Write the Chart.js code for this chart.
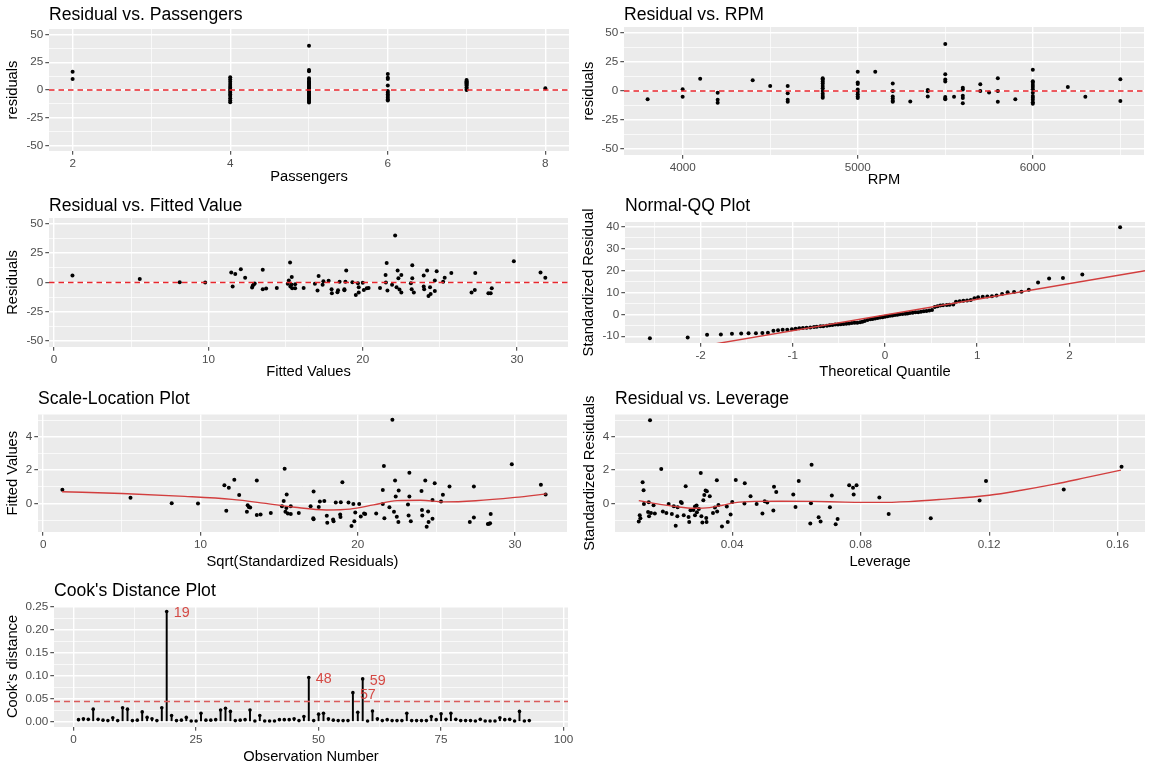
<!DOCTYPE html>
<html>
<head>
<meta charset="utf-8">
<script src="https://cdn.jsdelivr.net/npm/chart.js@4.4.1/dist/chart.umd.min.js"></script>
<style>
  html, body { margin: 0; padding: 0; background: #fff; }
  #page { position: relative; width: 1152px; height: 768px; overflow: hidden; }
  #page canvas { position: absolute; }
</style>
</head>
<body>
<div id="page"></div>
<script>
// ---- Residual vs. Passengers
const passengers = [2,2,
  4,4,4,4,4,4,4,4,4,4,4,4,4,4,
  5,5,5,5,5,5,5,5,5,5,5,5,5,5,5,5,5,5,5,5,5,5,5,5,5,5,5,
  6,6,6,6,6,6,6,6,6,6,6,
  7,7,7,7,7,7,7,7,7,
  8];
const residPass = [16.5,10,
  11.4,9.5,7.5,5.5,3.5,2,0.5,-1,-2.5,-4,-5.5,-7.5,-9.5,-11.1,
  40,18,17,10.5,9.5,8,7,6,5,4,3,2,1.5,0.5,0,-0.5,-1.5,-2.5,-3.5,-4.5,-5.5,-6.5,-7.5,-8.5,-9.5,-10.5,-11.3,
  14.4,11,10,4,-1,-2.5,-4,-5.5,-7,-8.5,-9.5,
  9,8,7,6,5,4,2.5,1,0,
  1.5];

// ---- Residual vs. RPM
const rpm = [3800,4000,4000,4100,4200,4200,4200,4400,4500,4600,4600,4600,4600,
  4800,4800,4800,4800,4800,4800,4800,4800,4800,4800,
  5000,5000,5000,5000,5000,5000,5000,5000,5100,
  5200,5200,5200,5200,5200,5200,5300,5400,5400,5400,
  5500,5500,5500,5500,5500,5500,5500,5550,
  5600,5600,5600,5600,5600,5700,5700,5750,5800,5800,5800,5900,
  6000,6000,6000,6000,6000,6000,6000,6000,6000,6000,6000,6000,
  6200,6300,6500,6500];
const residRpm = [-7,1.5,-5,10.5,-1.5,-7.6,-10.2,9.3,4.4,4.4,-2,-7.6,-9.3,
  11,9.9,8.1,6.4,4.4,2.3,0,-2.3,-4.4,-5.8,
  16.6,7.3,6.1,1.2,-0.6,-2.9,-4.7,-6.1,16.6,
  6.4,0,-4.7,-6.4,-8.4,-9.3,-9.0,0.9,-0.3,-4.7,
  40.4,14.5,9.9,8.1,-5.2,-6.4,-7,-5,
  2.9,1.2,-4.1,-6.1,-10.5,5.8,0,-1.2,11,0,-9.3,-7,
  18.3,8.4,7,5.2,3.5,1.5,-1.5,-4.4,-5.8,-7.6,-9.6,-11,
  3.5,-5,10.2,-8.7];

// ---- Residual vs. Fitted Value
const fittedRF = [1.19,5.55,8.14,9.79,11.48,11.57,11.74,12.1,12.38,12.83,12.88,12.95,13.0,
  13.52,13.52,13.74,14.43,15.14,15.21,15.29,15.31,15.4,15.38,15.43,15.62,15.62,
  16.17,16.9,17.14,17.07,17.4,17.45,17.79,17.98,18.0,18.4,18.36,18.5,18.81,18.81,18.88,18.93,
  19.33,19.55,19.69,19.74,19.74,20.0,20.07,20.26,20.38,
  21.12,21.48,21.5,21.55,21.6,21.9,22.1,22.19,22.26,22.31,22.38,22.5,22.5,
  23.12,23.21,23.21,23.17,23.31,23.95,23.95,23.98,24.17,24.26,24.36,24.4,24.67,24.67,24.79,
  25.21,25.31,25.74,27.05,27.29,27.26,28.14,28.29,28.36,29.79,31.52,31.83];
const residRF = [6.0,2.9,0.3,0,8.6,-3.4,7.2,11.2,4.0,-4.3,-2.6,-1.4,-0.9,
  10.9,-5.7,-5.2,-4.6,-1.1,1.7,17.0,-3.4,4.6,-1.7,-4.9,-1.4,-4.9,
  -4.6,-1.1,5.5,-6.9,-2.0,1.1,1.4,-5.7,-9.2,-6.6,-8.3,0.6,-5.7,-6.6,0.6,10.3,
  0.3,-10.6,-0.6,-8.6,-4.0,-0.3,-6.3,-4.9,-4.6,
  -4.6,6.3,0,16.7,-6.9,-2.0,40,-4.0,10.3,3.7,-6.0,6.3,-8.6,
  -0.6,14.7,3.7,-5.7,-8.6,6.0,-3.4,-5.7,10.3,-11.5,-4.0,-9.8,1.7,-7.2,9.5,
  0.6,4.0,8.0,-8.6,8.0,-6.3,-9.2,-9.2,-4.9,18.1,8.6,4.0];

// ---- Normal-QQ Plot
const qqTheo = [-2.55,-2.14,-1.93,-1.78,-1.66,-1.56,-1.48,-1.40,-1.33,-1.27,
  -1.21,-1.16,-1.11,-1.06,-1.01,-0.97,-0.93,-0.89,-0.85,-0.81,
  -0.77,-0.74,-0.70,-0.67,-0.63,-0.60,-0.57,-0.54,-0.51,-0.48,
  -0.45,-0.42,-0.39,-0.36,-0.33,-0.30,-0.27,-0.245,-0.22,-0.19,
  -0.16,-0.135,-0.108,-0.081,-0.054,-0.027,0,
  0.027,0.054,0.081,0.108,0.135,0.16,0.19,0.22,0.245,0.27,
  0.30,0.33,0.36,0.39,0.42,0.45,0.48,0.51,0.54,0.57,
  0.60,0.63,0.67,0.70,0.74,0.77,0.81,0.85,0.89,0.93,
  0.97,1.01,1.06,1.11,1.16,1.21,1.27,1.33,1.40,1.48,
  1.56,1.66,1.78,1.93,2.14,2.55];
const qqSample = [-10.9,-10.6,-9.3,-9.2,-8.9,-8.8,-8.7,-8.6,-8.5,-8.4,
  -7.5,-7.3,-7.1,-7.0,-6.8,-6.6,-6.4,-6.3,-6.1,-6.0,
  -5.8,-5.7,-5.5,-5.4,-5.2,-5.0,-4.9,-4.7,-4.6,-4.5,
  -4.4,-4.3,-4.2,-4.0,-3.9,-3.8,-3.6,-3.4,-3.0,-2.6,
  -2.3,-2.1,-1.9,-1.7,-1.5,-1.3,-1.1,
  -0.9,-0.7,-0.5,-0.3,-0.2,0,0.1,0.3,0.4,0.6,
  0.7,0.9,1.0,1.2,1.4,1.5,1.7,2.0,3.3,3.7,
  4.0,4.2,4.3,4.4,4.5,5.8,6.0,6.2,6.3,6.6,
  7.3,7.8,8.0,8.1,8.3,8.6,9.3,10.1,10.2,10.3,
  11.2,14.6,16.4,16.6,18.2,39.8];
const qqLineX = [-2.82, 2.82];
const qqLineY = [-20.5, 19.9];

// ---- Scale-Location Plot
const fittedSL = [1.22,5.55,8.17,9.84,11.52,11.64,11.8,12.15,12.46,12.95,13.0,13.07,13.16,13.58,13.58,13.82,14.47,
  15.18,15.29,15.35,15.4,15.48,15.46,15.55,15.74,15.74,16.25,17.0,17.19,17.17,17.19,17.52,17.59,17.87,
  18.03,18.06,18.6,18.43,18.46,18.88,18.9,18.92,19.02,19.41,19.6,19.72,19.78,19.84,20.09,20.19,20.4,20.47,
  21.17,21.59,21.59,21.66,21.69,22.01,22.2,22.3,22.37,22.41,22.48,22.6,22.58,23.19,23.28,23.28,23.23,23.37,
  24.05,24.08,24.1,24.29,24.38,24.47,24.5,24.75,24.75,24.89,25.29,25.41,25.83,27.12,27.38,27.38,
  28.27,28.41,28.45,29.79,31.64,31.94,28.35];
const stdResSL = [0.83,0.35,0.02,0.0,1.10,-0.43,0.95,1.42,0.51,-0.49,-0.1,-0.2,-0.24,1.38,-0.69,-0.65,-0.57,
  -0.16,0.16,2.09,-0.49,0.55,-0.26,-0.59,-0.16,-0.63,-0.57,-0.16,0.73,-0.87,-0.93,-0.2,0.12,0.16,
  -0.73,-1.14,0.06,-0.95,-1.06,-0.65,-0.81,0.08,1.28,0.06,-1.34,-0.02,-1.06,-0.53,-0.02,-0.77,-0.59,-0.63,
  -0.59,0.81,-0.02,2.25,-0.87,-0.22,5.02,-0.49,1.38,0.43,-0.79,0.79,-1.1,-0.06,1.85,0.43,-0.71,-1.06,
  0.75,-0.39,-0.71,1.38,-1.38,-0.47,-1.1,0.22,-0.91,1.22,0.12,0.53,1.02,-1.1,1.02,-0.83,
  -1.22,-1.18,-0.63,2.36,1.12,0.55,-1.2];
const smoothSLX = [1.2,5,9,12,14,16,18,19.5,21,22.5,24,25.5,27.5,30,32];
const smoothSLY = [0.71,0.6,0.43,0.25,0.03,-0.22,-0.38,-0.33,-0.08,0.18,0.2,0.1,0.17,0.37,0.58];

// ---- Residual vs. Leverage
const leverage = [0.0109,0.0112,0.0114,0.0121,0.0124,0.0125,0.014,0.0138,0.0141,0.0144,
  0.0147,0.0155,0.0159,0.0179,0.0184,0.0195,0.0202,0.0212,0.0218,0.0224,
  0.0229,0.023,0.024,0.0243,0.0249,0.0255,0.0264,0.0266,0.027,0.0279,
  0.0284,0.0284,0.0289,0.029,0.0296,0.0302,0.0304,0.0307,0.031,0.0313,
  0.0317,0.0319,0.032,0.0321,0.033,0.034,0.0346,0.0352,0.0353,0.0357,
  0.0368,0.0383,0.0386,0.0395,0.04,0.0411,0.0438,0.0439,0.0457,0.0476,
  0.0494,0.0501,0.0509,0.0528,0.053,0.0537,0.059,0.0597,0.0607,0.0643,
  0.0645,0.0647,0.0669,0.0675,0.0704,0.071,0.0722,0.0728,0.0764,0.0776,
  0.0778,0.0787,0.0858,0.0887,0.1018,0.117,0.119,0.1432,0.1612];
const stdResLev = [-1.07,-0.7,-0.88,1.27,0.8,-0.02,0.08,-0.5,-0.76,4.98,
  -0.56,-0.1,-0.6,2.07,-0.48,-0.56,-0.02,-0.62,-0.16,-1.33,
  -0.76,-0.22,0.1,0.04,-0.7,1.03,-0.8,-1.1,-0.4,-0.38,
  -0.18,-0.7,-0.12,-0.52,-0.32,1.83,-0.76,-1.13,0.2,0.52,
  0.78,-0.86,-1.1,0.74,0.44,-0.56,-0.24,1.39,-0.48,-0.08,
  -1.37,-0.18,-1.1,-0.66,0.1,1.41,0,1.21,0.44,-0.02,
  -0.6,0.14,0.06,-0.42,1.0,0.7,0.54,-0.2,1.35,-1.19,
  0.02,2.33,-0.82,-1.07,-0.22,0.48,-1.23,-0.92,1.09,0.94,
  0.54,1.09,0.36,-0.62,-0.88,0.18,1.35,0.84,2.21];
const smoothLevX = [0.0109,0.0175,0.022,0.028,0.033,0.037,0.041,0.047,0.055,0.065,0.075,0.085,0.095,0.105,0.12,0.13,0.14,0.15,0.161];
const smoothLevY = [0.18,-0.05,-0.17,-0.28,-0.24,-0.1,0.06,0.13,0.14,0.13,0.09,0.07,0.12,0.25,0.5,0.8,1.15,1.55,2.0];

// ---- Cook's Distance Plot (observations 1..93)
const cooks = [0.004,0.006,0.005,0.027,0.005,0.003,0.002,0.008,0.002,0.030,
  0.027,0.002,0.003,0.021,0.009,0.006,0.002,0.030,0.240,0.013,
  0.002,0.003,0.009,0.001,0.001,0.018,0.003,0.003,0.004,0.025,
  0.029,0.022,0.002,0.003,0.004,0.025,0.001,0.013,0.001,0.001,
  0.001,0.004,0.004,0.004,0.006,0.002,0.011,0.096,0.002,0.016,
  0.018,0.006,0.003,0.002,0.002,0.002,0.063,0.020,0.093,0.001,
  0.023,0.006,0.002,0.004,0.002,0.002,0.002,0.018,0.002,0.002,
  0.002,0.002,0.011,0.004,0.017,0.005,0.018,0.005,0.002,0.002,
  0.002,0.001,0.005,0.001,0.001,0.001,0.008,0.004,0.005,0.001,
  0.022,0.001,0.002];
const cookLabels = [19, 48, 57, 59];
const cookCutoff = 0.0435;

// ---------------------------------------------------------------
const FONT = '"Liberation Sans", Arial, Helvetica, sans-serif';
const page = document.getElementById('page');

function near(list, v) { return list.some(m => Math.abs(m - v) < 1e-9); }
function pts(xs, ys) { return xs.map((x, i) => ({ x: x, y: ys[i] })); }

// grey panel + left aligned plot title
const ggPanel = {
  id: 'ggPanel',
  beforeDraw(chart) {
    const a = chart.chartArea, c = chart.ctx;
    c.save();
    c.fillStyle = '#EBEBEB';
    c.fillRect(a.left, a.top, a.right - a.left, a.bottom - a.top);
    c.restore();
  },
  afterDraw(chart, args, opts) {
    if (!opts.text) return;
    const c = chart.ctx;
    c.save();
    c.font = '17.6px ' + FONT;
    c.fillStyle = '#000';
    c.textAlign = 'left';
    c.textBaseline = 'middle';
    c.fillText(opts.text, chart.chartArea.left, opts.y);
    c.restore();
  }
};

// red observation numbers on the cook's plot
const cookLabelPlugin = {
  id: 'cookLabels',
  afterDatasetsDraw(chart) {
    const xs = chart.scales.x, ys = chart.scales.y, c = chart.ctx;
    c.save();
    c.font = '14.3px ' + FONT;
    c.fillStyle = '#D54A45';
    c.textAlign = 'left';
    c.textBaseline = 'middle';
    cookLabels.forEach(n => {
      c.fillText(String(n), xs.getPixelForValue(n) + 7, ys.getPixelForValue(cooks[n - 1]) + 2);
    });
    c.restore();
  }
};

function axis(ax, pos, fitFn, titlePad) {
  const all = ax.major.concat(ax.minor).filter(v => v >= ax.min && v <= ax.max).sort((a, b) => a - b);
  return {
    type: 'linear', position: pos, min: ax.min, max: ax.max, offset: false,
    afterBuildTicks: s => { s.ticks = all.map(v => ({ value: v })); },
    afterFit: s => { fitFn(s); s.paddingLeft = 0; s.paddingRight = 0; s.paddingTop = 0; s.paddingBottom = 0; },
    grid: {
      offset: false,
      color: '#FFFFFF',
      lineWidth: c => (c.tick && near(ax.major, c.tick.value)) ? 1.4 : 0.7,
      drawTicks: true,
      tickLength: 3.7,
      tickWidth: 1,
      tickColor: c => (c.tick && near(ax.major, c.tick.value)) ? '#333333' : 'rgba(0,0,0,0)'
    },
    border: { display: false },
    ticks: {
      autoSkip: false, maxRotation: 0, minRotation: 0, padding: 2,
      color: '#4D4D4D', font: { family: FONT, size: 11.7 },
      callback: v => near(ax.major, v) ? (ax.fmt ? ax.fmt(v) : String(v)) : ''
    },
    title: { display: true, text: ax.title, color: '#000', font: { family: FONT, size: 14.7 }, padding: titlePad }
  };
}

function makePanel(p) {
  const [cx, cy, cw, ch] = p.cell;
  const [al, at, ar, ab] = p.area;
  const cv = document.createElement('canvas');
  cv.width = cw; cv.height = ch;
  cv.style.left = cx + 'px'; cv.style.top = cy + 'px';
  cv.style.width = cw + 'px'; cv.style.height = ch + 'px';
  page.appendChild(cv);
  const half = 14.7 * 1.2 / 2;
  const pluginOpts = { legend: { display: false }, tooltip: { enabled: false }, ggPanel: { text: p.title, y: p.titleY - cy } };
  new Chart(cv.getContext('2d'), {
    type: 'scatter',
    data: { datasets: p.datasets },
    options: {
      responsive: false, animation: false, events: [],
      layout: { autoPadding: false, padding: { left: 0, top: at - cy, right: cx + cw - ar, bottom: 0 } },
      plugins: pluginOpts,
      scales: {
        x: axis(p.x, 'bottom', s => { s.height = cy + ch - ab; }, { top: 0, bottom: cy + ch - p.xTitleY - half }),
        y: axis(p.y, 'left', s => { s.width = al - cx; }, { top: p.yTitleX - cx - half, bottom: 0 })
      }
    },
    plugins: [ggPanel].concat(p.extra || [])
  });
}

function dots(data, r) {
  return { type: 'scatter', data: data, pointRadius: r || 2, pointBackgroundColor: '#000', pointBorderWidth: 0, order: 1 };
}
function hline(y, x0, x1, color, dash) {
  return { type: 'scatter', data: [{ x: x0, y: y }, { x: x1, y: y }], showLine: true, borderColor: color,
    borderWidth: 1.5, borderDash: dash, pointRadius: 0, order: 0 };
}
function curve(xs, ys) {
  return { type: 'scatter', data: pts(xs, ys), showLine: true, borderColor: '#D23E3E', borderWidth: 1.4,
    cubicInterpolationMode: 'monotone', pointRadius: 0, order: 0 };
}

const resY = { min: -55, max: 55, major: [-50, -25, 0, 25, 50], minor: [-37.5, -12.5, 12.5, 37.5] };
const RED = '#E8262C';

makePanel({
  cell: [0, 0, 576, 190], area: [49, 29, 569, 151], title: 'Residual vs. Passengers', titleY: 15,
  xTitleY: 177, yTitleX: 13,
  x: { min: 1.7, max: 8.3, major: [2, 4, 6, 8], minor: [3, 5, 7], title: 'Passengers' },
  y: Object.assign({ title: 'residuals' }, resY),
  datasets: [dots(pts(passengers, residPass)), hline(0, 1.7, 8.3, RED, [5.5, 4])]
});

makePanel({
  cell: [576, 0, 576, 190], area: [624, 27, 1144, 155], title: 'Residual vs. RPM', titleY: 15,
  xTitleY: 180, yTitleX: 589,
  x: { min: 3665, max: 6635, major: [4000, 5000, 6000], minor: [4500, 5500, 6500], title: 'RPM' },
  y: Object.assign({ title: 'residuals' }, resY),
  datasets: [dots(pts(rpm, residRpm)), hline(0, 3665, 6635, RED, [5.5, 4])]
});

makePanel({
  cell: [0, 190, 576, 190], area: [49, 218, 568, 347], title: 'Residual vs. Fitted Value', titleY: 206,
  xTitleY: 372, yTitleX: 13,
  x: { min: -0.33, max: 33.3, major: [0, 10, 20, 30], minor: [5, 15, 25], title: 'Fitted Values' },
  y: Object.assign({ title: 'Residuals' }, resY),
  datasets: [dots(pts(fittedRF, residRF)), hline(0, -0.33, 33.3, RED, [5.5, 4])]
});

makePanel({
  cell: [576, 190, 576, 190], area: [625, 222, 1145, 343], title: 'Normal-QQ Plot', titleY: 206,
  xTitleY: 372, yTitleX: 589,
  x: { min: -2.82, max: 2.82, major: [-2, -1, 0, 1, 2], minor: [-2.5, -1.5, -0.5, 0.5, 1.5, 2.5], title: 'Theoretical Quantile' },
  y: { min: -13.1, max: 42.2, major: [-10, 0, 10, 20, 30, 40], minor: [-5, 5, 15, 25, 35], title: 'Standardized Residual' },
  datasets: [dots(pts(qqTheo, qqSample)), curve(qqLineX, qqLineY)]
});

makePanel({
  cell: [0, 380, 576, 195], area: [38, 414.5, 567, 532], title: 'Scale-Location Plot', titleY: 399,
  xTitleY: 562, yTitleX: 13,
  x: { min: -0.33, max: 33.3, major: [0, 10, 20, 30], minor: [5, 15, 25], title: 'Sqrt(Standardized Residuals)' },
  y: { min: -1.7, max: 5.33, major: [0, 2, 4], minor: [-1, 1, 3, 5], title: 'Fitted Values' },
  datasets: [dots(pts(fittedSL, stdResSL)), curve(smoothSLX, smoothSLY)]
});

makePanel({
  cell: [576, 380, 576, 195], area: [615, 414.5, 1145, 532], title: 'Residual vs. Leverage', titleY: 399,
  xTitleY: 562, yTitleX: 590,
  x: { min: 0.0035, max: 0.1685, major: [0.04, 0.08, 0.12, 0.16], minor: [0.02, 0.06, 0.10, 0.14], title: 'Leverage', fmt: v => v.toFixed(2) },
  y: { min: -1.7, max: 5.33, major: [0, 2, 4], minor: [-1, 1, 3, 5], title: 'Standardized Residuals' },
  datasets: [dots(pts(leverage, stdResLev)), curve(smoothLevX, smoothLevY)]
});

const obsNo = cooks.map((v, i) => i + 1);
makePanel({
  cell: [0, 575, 576, 193], area: [54, 606, 568, 727], title: "Cook's Distance Plot", titleY: 591,
  xTitleY: 757, yTitleX: 13,
  x: { min: -4.0, max: 100.9, major: [0, 25, 50, 75, 100], minor: [12.5, 37.5, 62.5, 87.5], title: 'Observation Number' },
  y: { min: -0.012, max: 0.252, major: [0, 0.05, 0.10, 0.15, 0.20, 0.25], minor: [0.025, 0.075, 0.125, 0.175, 0.225],
       title: "Cook's distance", fmt: v => v.toFixed(2) },
  datasets: [
    hline(cookCutoff, -4.0, 100.9, '#DA5A5A', [6, 4]),
    dots(pts(obsNo, cooks), 1.8),
    { type: 'bar', data: obsNo.map((n, i) => ({ x: n, y: [0, cooks[i]] })), backgroundColor: '#000',
      borderWidth: 0, barThickness: 1.3, grouped: false, order: 2 }
  ],
  extra: [cookLabelPlugin]
});
</script>
</body>
</html>
